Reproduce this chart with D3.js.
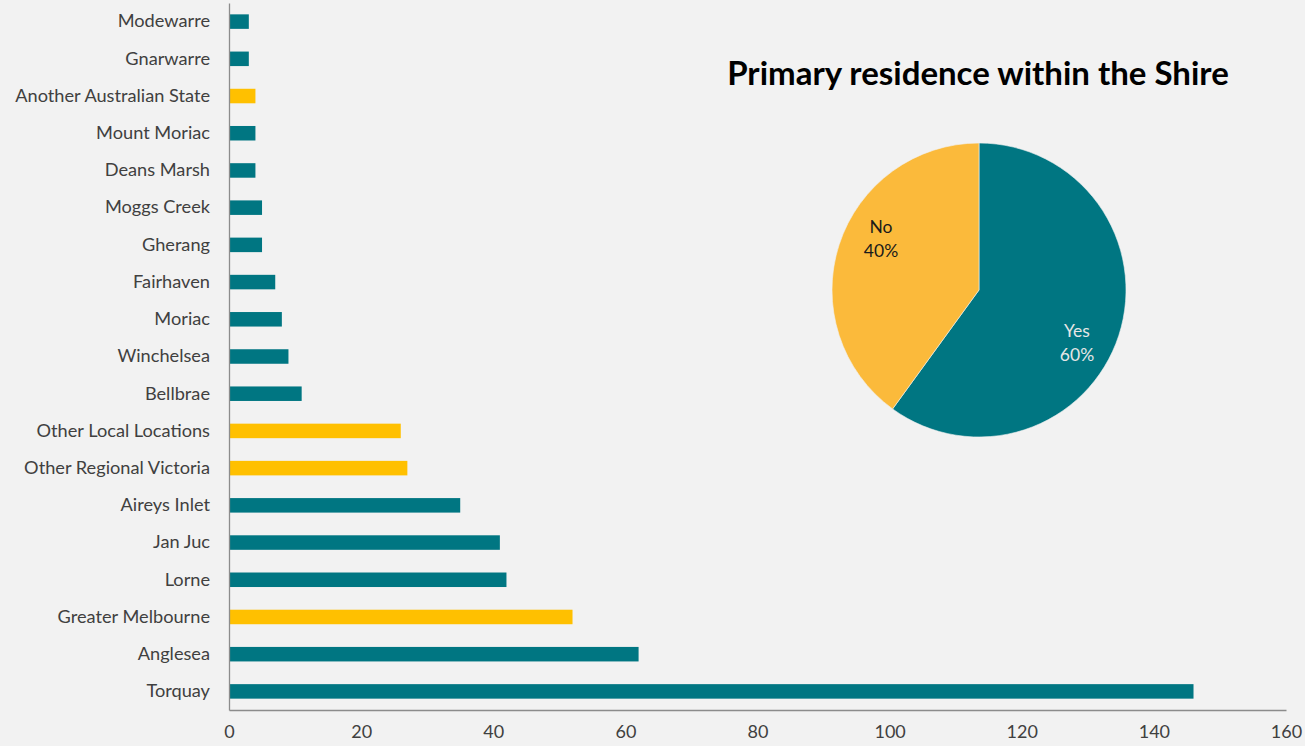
<!DOCTYPE html>
<html>
<head>
<meta charset="utf-8">
<script src="https://cdn.jsdelivr.net/npm/d3@7"></script>
<style>
  html, body { margin: 0; padding: 0; background: #f2f2f2; }
  svg { display: block; }
</style>
</head>
<body>
<svg id="chart" width="1305" height="746"></svg>
<script>
// Locations of respondents (top to bottom as shown)
const locations = [
  "Modewarre", "Gnarwarre", "Another Australian State", "Mount Moriac",
  "Deans Marsh", "Moggs Creek", "Gherang", "Fairhaven", "Moriac",
  "Winchelsea", "Bellbrae", "Other Local Locations", "Other Regional Victoria",
  "Aireys Inlet", "Jan Juc", "Lorne", "Greater Melbourne", "Anglesea", "Torquay"
];
const counts = [3, 3, 4, 4, 4, 5, 5, 7, 8, 9, 11, 26, 27, 35, 41, 42, 52, 62, 146];
// Locations outside the named Shire towns
const outsideShire = ["Another Australian State", "Other Local Locations", "Other Regional Victoria", "Greater Melbourne"];
const xTicks = [0, 20, 40, 60, 80, 100, 120, 140, 160];

// Primary residence pie
const pieLabels = ["Yes", "No"];
const pieShares = [60, 40];
const chartTitle = "Primary residence within the Shire";

const teal = "#007682";
const gold = "#ffc000";
const pieGold = "#fbba3b";
const font = "'Lato', 'Open Sans', sans-serif";

const svg = d3.select("#chart");

const x = d3.scaleLinear().domain([0, 160]).range([229, 1286]);
const y = d3.scaleBand().domain(locations).range([3, 710]).paddingInner(0.61).paddingOuter(0.305);

// bars
svg.append("g").selectAll("rect")
  .data(locations)
  .join("rect")
  .attr("x", x(0))
  .attr("y", d => y(d))
  .attr("width", (d, i) => x(counts[i]) - x(0))
  .attr("height", y.bandwidth())
  .attr("fill", d => outsideShire.includes(d) ? gold : teal);

// y axis
const yAxis = svg.append("g")
  .attr("transform", `translate(${x(0)},0)`)
  .call(d3.axisLeft(y).tickSize(0).tickPadding(19));
yAxis.select(".domain").attr("stroke", "#8c8c8c").attr("stroke-width", 1.3);
yAxis.selectAll("text")
  .attr("font-family", font).attr("font-size", 18.2).attr("fill", "#404040");

// x axis
const xAxis = svg.append("g")
  .attr("transform", `translate(0,710)`)
  .call(d3.axisBottom(x).tickValues(xTicks).tickSize(0).tickPadding(15));
xAxis.select(".domain").attr("stroke", "#8c8c8c").attr("stroke-width", 1.3);
xAxis.selectAll("text")
  .attr("font-family", font).attr("font-size", 18).attr("fill", "#404040");

// title
svg.append("text")
  .attr("x", 978).attr("y", 85)
  .attr("text-anchor", "middle")
  .attr("font-family", font).attr("font-weight", "bold")
  .attr("font-size", 33).attr("fill", "#000")
  .text(chartTitle);

// pie
const cx = 979, cy = 290, r = 147;
const pie = d3.pie().sort(null).value(d => d);
const arc = d3.arc().innerRadius(0).outerRadius(r);
const pieG = svg.append("g").attr("transform", `translate(${cx},${cy})`);
const arcs = pie(pieShares);
pieG.selectAll("path")
  .data(arcs)
  .join("path")
  .attr("d", arc)
  .attr("fill", (d, i) => i === 0 ? teal : pieGold)
  .attr("stroke", "#f2f2f2").attr("stroke-width", 0.6);

// data labels sit slightly clockwise of each slice's middle
const labelPos = d => {
  const a = (d.startAngle + d.endAngle) / 2 + 10 * Math.PI / 180;
  const rr = r * 0.755;
  return [Math.sin(a) * rr, -Math.cos(a) * rr];
};
const lbl = pieG.selectAll("text.pl")
  .data(arcs)
  .join("text")
  .attr("class", "pl")
  .attr("transform", d => `translate(${labelPos(d)})`)
  .attr("text-anchor", "middle")
  .attr("font-family", font).attr("font-size", 17.5)
  .attr("fill", (d, i) => i === 0 ? "#e6e6e6" : "#1a1a1a");
lbl.append("tspan").attr("x", 0).attr("dy", "-0.3em").text((d, i) => pieLabels[i]);
lbl.append("tspan").attr("x", 0).attr("dy", "1.4em").text((d, i) => pieShares[i] + "%");
</script>
</body>
</html>
